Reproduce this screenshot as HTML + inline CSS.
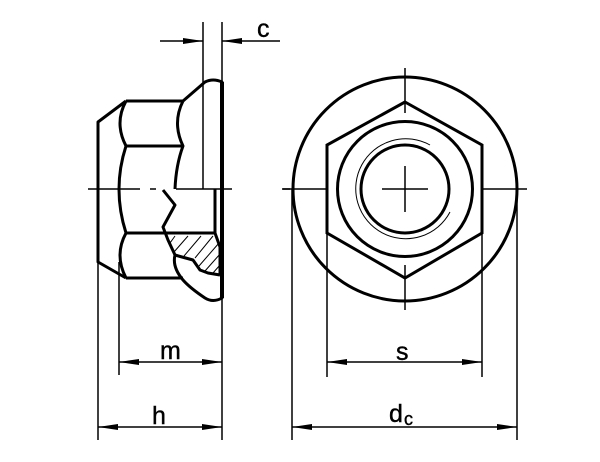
<!DOCTYPE html>
<html><head><style>html,body{margin:0;padding:0;background:#fff;width:600px;height:462px;overflow:hidden}</style></head>
<body>
<svg width="600" height="462" viewBox="0 0 600 462" xmlns="http://www.w3.org/2000/svg">
<defs>
<marker id="a" markerWidth="20" markerHeight="8" refX="20" refY="4" orient="auto" markerUnits="userSpaceOnUse"><path d="M0,1 L20,4 L0,7 Z" fill="#000"/></marker>
<marker id="b" markerWidth="20" markerHeight="8" refX="0" refY="4" orient="auto" markerUnits="userSpaceOnUse"><path d="M20,1 L0,4 L20,7 Z" fill="#000"/></marker>
</defs>
<g fill="none" stroke="#000" stroke-width="3" stroke-linejoin="round">
<path d="M126,101 L98,122 L98,262 L126,278"/>
<path d="M126,101 H183 M126,146 H183 M126,233 H215 M126,278 H183"/>
<path d="M126,101 Q114,123 126,146 Q112,189 126,233 Q114,255 126,278"/>
<path d="M183,101 Q172,123 183,146 Q176,165 175,189"/>
<path d="M183,101 L205,82 Q213,78 222,82 L222,298 Q213,303 205,298 Q190,288 183,280 Q172,267 175,255"/>
<path d="M163,190 L175,205 L163,227 L168,240 L175,255 L182,257 L193,260 L200,270 L208,273 L220,275"/>
<path d="M215,189 V233 L220,247 V275"/>
<path d="M222,82 V298" stroke-width="4"/>
</g>
<g stroke="#000" stroke-width="1">
<path d="M175,236 L170,243 M188,236 L174,252 M201,236 L184,256 M213,236 L195,258 M219,243 L199,266 M220,254 L205,271 M220,265 L213,273"/>
</g>
<g stroke="#000" stroke-width="1.5" fill="none">
<path d="M88,189 H140 M150,189 H156 M176,189 H232 M283,189 H290"/>
<path d="M203,22 V189 M222,22 V82"/>
<path d="M160,41 H203" marker-end="url(#a)"/>
<path d="M222,41 H280" marker-start="url(#b)"/>
<path d="M98,262 V440 M119,262 V375 M222,298 V440"/>
<path d="M119,362 H222" marker-start="url(#b)" marker-end="url(#a)"/>
<path d="M98,427 H222" marker-start="url(#b)" marker-end="url(#a)"/>
</g>
<g fill="none" stroke="#000" stroke-width="3">
<circle cx="405" cy="189" r="112"/>
<path d="M405,102 L482,145 L482,233 L405,278 L327,233 L327,145 Z"/>
<circle cx="405" cy="189" r="67.5"/>
<circle cx="405" cy="189" r="44"/>
</g>
<path d="M430,145 A50,50 0 1 0 450,212" fill="none" stroke="#000" stroke-width="1"/>
<g stroke="#000" stroke-width="1.5" fill="none">
<path d="M282,189 H327 M482,189 H527 M405,68 V113 M405,265 V310"/>
<path d="M382,189 H428 M405,166 V212"/>
<path d="M292,189 V440 M517,189 V440 M327,233 V377 M482,233 V377"/>
<path d="M327,362 H482" marker-start="url(#b)" marker-end="url(#a)"/>
<path d="M292,427 H517" marker-start="url(#b)" marker-end="url(#a)"/>
</g>
<g font-family="Liberation Sans, sans-serif" font-size="25" fill="#000" stroke="#000" stroke-width="0.4">
<text x="257" y="37">c</text>
<text x="160" y="359">m</text>
<text x="396" y="360">s</text>
<text x="152" y="424">h</text>
<text x="389" y="422">d</text><text x="404" y="425" font-size="18">c</text>
</g>
</svg>
</body></html>
